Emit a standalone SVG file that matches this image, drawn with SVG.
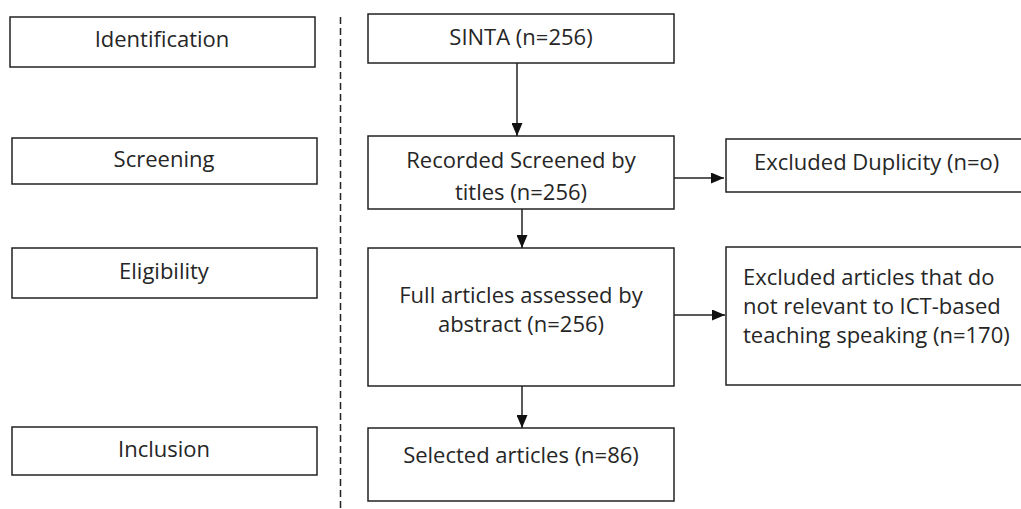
<svg xmlns="http://www.w3.org/2000/svg" width="1021" height="509" viewBox="0 0 1021 509">
  <defs>
    <style>
      .box { fill: #ffffff; stroke: #222222; stroke-width: 1.5; }
      .lbl { font-family: "Open Sans", "Noto Sans", sans-serif; font-size: 22px; fill: #262626; }
      .c { text-anchor: middle; }
      .conn { stroke: #222222; stroke-width: 1.5; fill: none; }
      .dash { stroke: #222222; stroke-width: 1.5; stroke-dasharray: 7 4; fill: none; }
    </style>
    <marker id="arr" viewBox="0 0 13 11" refX="13" refY="5.5" markerWidth="13" markerHeight="11" markerUnits="userSpaceOnUse" orient="auto">
      <path d="M0,0 L13,5.5 L0,11 Z" fill="#111111"/>
    </marker>
  </defs>
  <rect width="1021" height="509" fill="#ffffff"/>

  <g id="phase-identification">
    <rect class="box" x="10" y="17" width="305" height="50"/>
    <text class="lbl c" x="162" y="47">Identification</text>
  </g>
  <g id="phase-screening">
    <rect class="box" x="12" y="138" width="305" height="46"/>
    <text class="lbl c" x="164" y="167">Screening</text>
  </g>
  <g id="phase-eligibility">
    <rect class="box" x="12" y="248" width="305" height="50"/>
    <text class="lbl c" x="164" y="279">Eligibility</text>
  </g>
  <g id="phase-inclusion">
    <rect class="box" x="12" y="427" width="305" height="48"/>
    <text class="lbl c" x="164" y="457">Inclusion</text>
  </g>

  <g id="divider">
    <line class="dash" x1="340.5" y1="17" x2="340.5" y2="509"/>
  </g>

  <g id="sinta">
    <rect class="box" x="368" y="14" width="306" height="49"/>
    <text class="lbl c" x="521" y="45">SINTA (n=256)</text>
  </g>
  <g id="recorded">
    <rect class="box" x="368" y="136" width="306" height="73"/>
    <text class="lbl c" x="521" y="168">Recorded Screened by</text>
    <text class="lbl c" x="521" y="200">titles (n=256)</text>
  </g>
  <g id="full-articles">
    <rect class="box" x="368" y="248" width="306" height="138"/>
    <text class="lbl c" x="521" y="303">Full articles assessed by</text>
    <text class="lbl c" x="521" y="332">abstract (n=256)</text>
  </g>
  <g id="selected">
    <rect class="box" x="368" y="428" width="306" height="73"/>
    <text class="lbl c" x="521" y="463">Selected articles (n=86)</text>
  </g>
  <g id="excluded-duplicity">
    <rect class="box" x="726" y="139" width="310" height="53"/>
    <text class="lbl" x="754" y="170">Excluded Duplicity (n=o)</text>
  </g>
  <g id="excluded-articles">
    <rect class="box" x="726" y="247" width="310" height="138"/>
    <text class="lbl" x="743" y="285">Excluded articles that do</text>
    <text class="lbl" x="743" y="314">not relevant to ICT-based</text>
    <text class="lbl" x="743" y="343">teaching speaking (n=170)</text>
  </g>

  <g id="connectors">
    <line class="conn" x1="517" y1="63" x2="517" y2="136" marker-end="url(#arr)"/>
    <line class="conn" x1="522" y1="209" x2="522" y2="248" marker-end="url(#arr)"/>
    <line class="conn" x1="522" y1="386" x2="522" y2="428" marker-end="url(#arr)"/>
    <line class="conn" x1="674" y1="178" x2="724" y2="178" marker-end="url(#arr)"/>
    <line class="conn" x1="674" y1="315" x2="725" y2="315" marker-end="url(#arr)"/>
  </g>
</svg>
